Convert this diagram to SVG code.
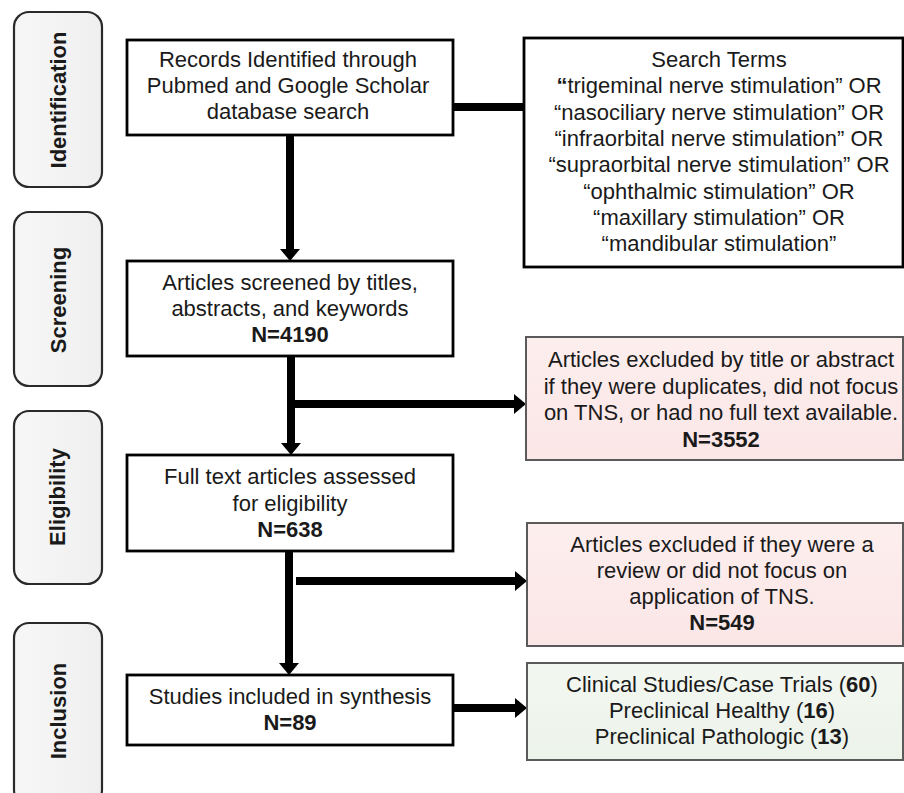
<svg xmlns="http://www.w3.org/2000/svg" width="904" height="793" viewBox="0 0 904 793">
<defs>
<style>
text{font-family:"Liberation Sans",Arial,sans-serif;font-size:22px;fill:#1a1a1a;text-anchor:middle}
.b{font-weight:bold}
.phase rect{fill:url(#gphase);stroke:#2a2a2a;stroke-width:2.2}
.phase text{font-weight:bold;font-size:22px}
.box rect{fill:#fff;stroke:#000;stroke-width:2.8}
.pink rect{fill:url(#gpink);stroke:#5a5a5a;stroke-width:2}
.green rect{fill:url(#ggreen);stroke:#5a5a5a;stroke-width:2}
.conn line{stroke:#000;stroke-width:8}
</style>
<linearGradient id="gphase" x1="0" y1="0" x2="1" y2="0"><stop offset="0" stop-color="#f7f7f7"/><stop offset="1" stop-color="#efefef"/></linearGradient>
<linearGradient id="gpink" x1="0" y1="0" x2="0" y2="1"><stop offset="0" stop-color="#fdeeee"/><stop offset="1" stop-color="#fbe6e6"/></linearGradient>
<linearGradient id="ggreen" x1="0" y1="0" x2="0" y2="1"><stop offset="0" stop-color="#f3f7f1"/><stop offset="1" stop-color="#ecf3e9"/></linearGradient>
<marker id="ah" markerUnits="userSpaceOnUse" markerWidth="12" markerHeight="20" viewBox="0 0 12 20" refX="2" refY="10" orient="auto"><path d="M0,0 L12,10 L0,20 z" fill="#000"/></marker>
</defs>
<rect width="904" height="793" fill="#fff"/>

<g id="phase-identification" class="phase"><rect x="14" y="12" width="88" height="175" rx="15"/><text transform="translate(66,100) rotate(-90)">Identification</text></g>
<g id="phase-screening" class="phase"><rect x="14" y="212" width="88" height="174" rx="15"/><text transform="translate(66,300) rotate(-90)">Screening</text></g>
<g id="phase-eligibility" class="phase"><rect x="14" y="411" width="88" height="173" rx="15"/><text transform="translate(65,497) rotate(-90)">Eligibility</text></g>
<g id="phase-inclusion" class="phase"><rect x="14" y="623" width="88" height="182" rx="15"/><text transform="translate(66,711) rotate(-90)">Inclusion</text></g>

<g id="connectors" class="conn">
<line x1="453" y1="107" x2="524" y2="107"/>
<line x1="290" y1="135" x2="290" y2="251" marker-end="url(#ah)"/>
<line x1="291" y1="356" x2="291" y2="445" marker-end="url(#ah)"/>
<line x1="287" y1="404" x2="516" y2="404" marker-end="url(#ah)"/>
<line x1="289" y1="551" x2="289" y2="665" marker-end="url(#ah)"/>
<line x1="296" y1="581" x2="517" y2="581" marker-end="url(#ah)"/>
<line x1="453" y1="708" x2="517" y2="708" marker-end="url(#ah)"/>
</g>

<g id="records" class="box"><rect x="127" y="40" width="326" height="95"/>
<text x="288" y="67">Records Identified through</text>
<text x="288" y="93">Pubmed and Google Scholar</text>
<text x="288" y="119">database search</text></g>

<g id="search-terms" class="box"><rect x="524" y="38" width="379" height="229"/>
<text x="719" y="67">Search Terms</text>
<text x="719" y="93.3"><tspan class="b">“</tspan>trigeminal nerve stimulation” OR</text>
<text x="719" y="119.6">“nasociliary nerve stimulation” OR</text>
<text x="719" y="145.9">“infraorbital nerve stimulation” OR</text>
<text x="719" y="172.2">“supraorbital nerve stimulation” OR</text>
<text x="719" y="198.5">“ophthalmic stimulation” OR</text>
<text x="719" y="224.8">“maxillary stimulation” OR</text>
<text x="719" y="251.1">“mandibular stimulation”</text></g>

<g id="screened" class="box"><rect x="127" y="261" width="326" height="95"/>
<text x="290" y="290">Articles screened by titles,</text>
<text x="290" y="316">abstracts, and keywords</text>
<text x="290" y="342" class="b">N=4190</text></g>

<g id="excluded-1" class="pink"><rect x="526" y="337" width="377" height="123"/>
<text x="721" y="367">Articles excluded by title or abstract</text>
<text x="721" y="393.5">if they were duplicates, did not focus</text>
<text x="721" y="420">on TNS, or had no full text available.</text>
<text x="721" y="446.5" class="b">N=3552</text></g>

<g id="full-text" class="box"><rect x="127" y="455" width="326" height="96"/>
<text x="290" y="484">Full text articles assessed</text>
<text x="290" y="511">for eligibility</text>
<text x="290" y="537" class="b">N=638</text></g>

<g id="excluded-2" class="pink"><rect x="527" y="523" width="376" height="123"/>
<text x="722" y="552">Articles excluded if they were a</text>
<text x="722" y="578">review or did not focus on</text>
<text x="722" y="604">application of TNS.</text>
<text x="722" y="630" class="b">N=549</text></g>

<g id="included" class="box"><rect x="127" y="675" width="326" height="70"/>
<text x="290" y="704">Studies included in synthesis</text>
<text x="290" y="730" class="b">N=89</text></g>

<g id="categories" class="green"><rect x="527" y="663" width="376" height="97"/>
<text x="722" y="692">Clinical Studies/Case Trials (<tspan class="b">60</tspan>)</text>
<text x="722" y="718">Preclinical Healthy (<tspan class="b">16</tspan>)</text>
<text x="722" y="744">Preclinical Pathologic (<tspan class="b">13</tspan>)</text></g>
</svg>
